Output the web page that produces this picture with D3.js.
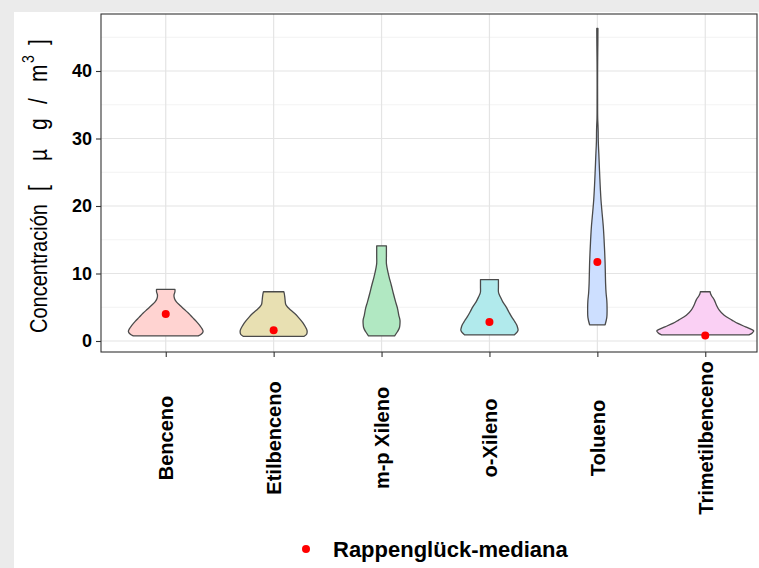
<!DOCTYPE html>
<html>
<head>
<meta charset="utf-8">
<script src="https://cdn.jsdelivr.net/npm/d3@7"></script>
<style>
  html, body { margin: 0; padding: 0; background: #ffffff; }
  svg { display: block; font-family: "Liberation Sans", Arial, sans-serif; }
</style>
</head>
<body>
<svg id="chart" width="759" height="568"></svg>
<script>
// ---------------- data ----------------
const categories = ["Benceno", "Etilbenceno", "m-p Xileno", "o-Xileno", "Tolueno", "Trimetilbenceno"];
const fillColors = ["#ffd3d1", "#e8e0b2", "#b1e8c2", "#b1eaec", "#cddfff", "#fad0f4"];
const medians = [4.0, 1.6, null, 2.8, 11.7, 0.8];
const yTicks = [0, 10, 20, 30, 40];
const yMinor = [5, 15, 25, 35, 45];
const legendLabel = "Rappenglück-mediana";

// density profiles: [concentration, relative density]
const densBenceno = [[0.75,.67],[1.0,.73],[1.4,.77],[1.8,.75],[2.3,.70],[2.9,.63],[3.5,.55],[4.1,.47],[4.7,.38],[5.3,.29],[5.8,.22],[6.3,.18],[6.8,.17],[7.3,.19],[7.65,.19]];
const densEtilbenceno = [[0.7,.63],[1.0,.68],[1.5,.69],[1.9,.67],[2.4,.63],[2.9,.58],[3.5,.51],[4.1,.43],[4.6,.35],[5.0,.29],[5.4,.25],[5.8,.24],[6.5,.23],[7.0,.22],[7.3,.21]];
const densMpXileno = [[0.75,.27],[1.4,.33],[2.0,.37],[2.6,.38],[3.1,.38],[3.85,.355],[4.8,.33],[5.8,.29],[7.0,.245],[8.3,.2],[9.5,.155],[10.8,.115],[11.5,.10],[12.5,.10],[13.5,.10],[14.1,.10]];
const densOXileno = [[0.9,.51],[1.3,.57],[1.6,.59],[2.0,.58],[2.4,.56],[3.0,.51],[3.6,.455],[4.3,.40],[5.1,.34],[5.8,.275],[6.6,.22],[7.0,.195],[7.3,.185],[8.0,.185],[8.6,.185],[9.1,.185]];
const densTolueno = [[2.4,.16],[3.5,.195],[5.0,.20],[6.0,.195],[7.1,.18],[8.5,.17],[10,.165],[11.5,.16],[13,.152],[14.5,.142],[15.5,.135],[17,.122],[18,.11],[19,.097],[20.9,.075],[22.5,.062],[24,.052],[26,.04],[27.8,.03],[29,.022],[30,.018],[31,.017],[32,.013],[33,.007],[36,.005],[40,.005],[42,.007],[44,.01],[46.3,.012]];
const densTrimetilbenceno = [[0.9,.90],[1.2,.97],[1.5,1.0],[1.8,.93],[2.1,.83],[2.6,.67],[3.1,.55],[3.8,.39],[4.6,.285],[5.4,.225],[6.1,.185],[6.7,.13],[7.0,.11],[7.3,.10]];
const densities = [densBenceno, densEtilbenceno, densMpXileno, densOXileno, densTolueno, densTrimetilbenceno];

// ---------------- layout ----------------
const svg = d3.select("#chart");
const W = 759, H = 568;
const panel = { left: 101, top: 14, right: 757, bottom: 352 };

// outer grey frame
svg.append("rect").attr("x", 0).attr("y", 0).attr("width", W).attr("height", H).attr("fill", "#ebebeb");
svg.append("rect").attr("x", 14).attr("y", 12).attr("width", W - 14).attr("height", H - 12).attr("fill", "#ffffff");

const x = d3.scalePoint().domain(categories).range([panel.left, 770]).padding(0.6);
const y = d3.scaleLinear().domain([0, 40]).range([341, 71]);
const w = d3.scaleLinear().domain([0, 1]).range([0, 48.5]);

// clip
svg.append("clipPath").attr("id", "clipPanel")
  .append("rect").attr("x", panel.left).attr("y", panel.top)
  .attr("width", panel.right - panel.left).attr("height", panel.bottom - panel.top);

const gp = svg.append("g").attr("clip-path", "url(#clipPanel)");

// grid
gp.selectAll("line.minor").data(yMinor).enter().append("line")
  .attr("x1", panel.left).attr("x2", panel.right)
  .attr("y1", d => y(d)).attr("y2", d => y(d))
  .attr("stroke", "#f0f0f0").attr("stroke-width", 0.8);
gp.selectAll("line.major").data(yTicks).enter().append("line")
  .attr("x1", panel.left).attr("x2", panel.right)
  .attr("y1", d => y(d)).attr("y2", d => y(d))
  .attr("stroke", "#e4e4e4").attr("stroke-width", 1.2);
gp.selectAll("line.vgrid").data(categories).enter().append("line")
  .attr("x1", d => x(d)).attr("x2", d => x(d))
  .attr("y1", panel.top).attr("y2", panel.bottom)
  .attr("stroke", "#e4e4e4").attr("stroke-width", 1.2);

// violins
categories.forEach((c, i) => {
  const cx = x(c);
  const area = d3.area()
    .curve(d3.curveCatmullRom.alpha(0.5))
    .y(d => y(d[0]))
    .x0(d => cx - w(d[1]))
    .x1(d => cx + w(d[1]));
  gp.append("path")
    .attr("d", area(densities[i]))
    .attr("fill", fillColors[i])
    .attr("stroke", "#4a4a4a")
    .attr("stroke-width", 1.3)
    .attr("stroke-linejoin", "round");
});

// medians
gp.selectAll("circle.med").data(categories.map((c, i) => ({ c, v: medians[i] })).filter(d => d.v !== null))
  .enter().append("circle")
  .attr("cx", d => x(d.c)).attr("cy", d => y(d.v)).attr("r", 4)
  .attr("fill", "#ff0000");

// panel border
svg.append("rect").attr("x", panel.left).attr("y", panel.top)
  .attr("width", panel.right - panel.left).attr("height", panel.bottom - panel.top)
  .attr("fill", "none").attr("stroke", "#333333").attr("stroke-width", 1.1);

// y axis
const yAxis = d3.axisLeft(y).tickValues(yTicks).tickSize(5).tickPadding(4);
const gy = svg.append("g").attr("transform", `translate(${panel.left},0)`).call(yAxis);
gy.select(".domain").remove();
gy.selectAll(".tick line").attr("stroke", "#333333").attr("stroke-width", 1.1);
gy.selectAll(".tick text").attr("fill", "#000").attr("font-size", 18).attr("font-weight", "bold")
  .attr("font-family", "Liberation Sans, Arial, sans-serif");

// x axis
const xAxis = d3.axisBottom(x).tickSize(5).tickPadding(0);
const gx = svg.append("g").attr("transform", `translate(0,${panel.bottom})`).call(xAxis);
gx.select(".domain").remove();
gx.selectAll(".tick line").attr("stroke", "#333333").attr("stroke-width", 1.1);
gx.selectAll(".tick text")
  .attr("fill", "#000").attr("font-size", 20).attr("font-weight", "bold")
  .attr("font-family", "Liberation Sans, Arial, sans-serif")
  .attr("text-anchor", "middle")
  .attr("transform", "translate(0,86) rotate(-90)")
  .attr("x", 0).attr("y", 0).attr("dy", "0.35em");

// y title (plotmath-like spacing)
const titleParts = [
  { t: "Concentración", off: 0, size: 20, dy: 0 },
  { t: "[", off: 142, size: 21, dy: 0 },
  { t: "µ", off: 172, size: 21, dy: 0 },
  { t: "g", off: 203, size: 21, dy: 0 },
  { t: "/", off: 229, size: 21, dy: 0 },
  { t: "m", off: 251, size: 21, dy: 0 },
  { t: "3", off: 270, size: 14, dy: -11 },
  { t: "]", off: 288, size: 21, dy: 0 }
];
const gt = svg.append("g").attr("transform", "translate(47,333) rotate(-90) scale(1,1.2)");
gt.selectAll("text").data(titleParts).enter().append("text")
  .attr("x", d => d.off).attr("y", d => d.dy)
  .attr("font-size", d => d.size).attr("fill", "#000")
  .attr("font-family", "Liberation Sans, Arial, sans-serif")
  .text(d => d.t);

// legend
svg.append("circle").attr("cx", 306).attr("cy", 549).attr("r", 4).attr("fill", "#ff0000");
svg.append("text").attr("x", 333).attr("y", 549).attr("dy", "0.35em")
  .attr("font-size", 22).attr("font-weight", "bold").attr("fill", "#000")
  .text(legendLabel);
</script>
</body>
</html>
